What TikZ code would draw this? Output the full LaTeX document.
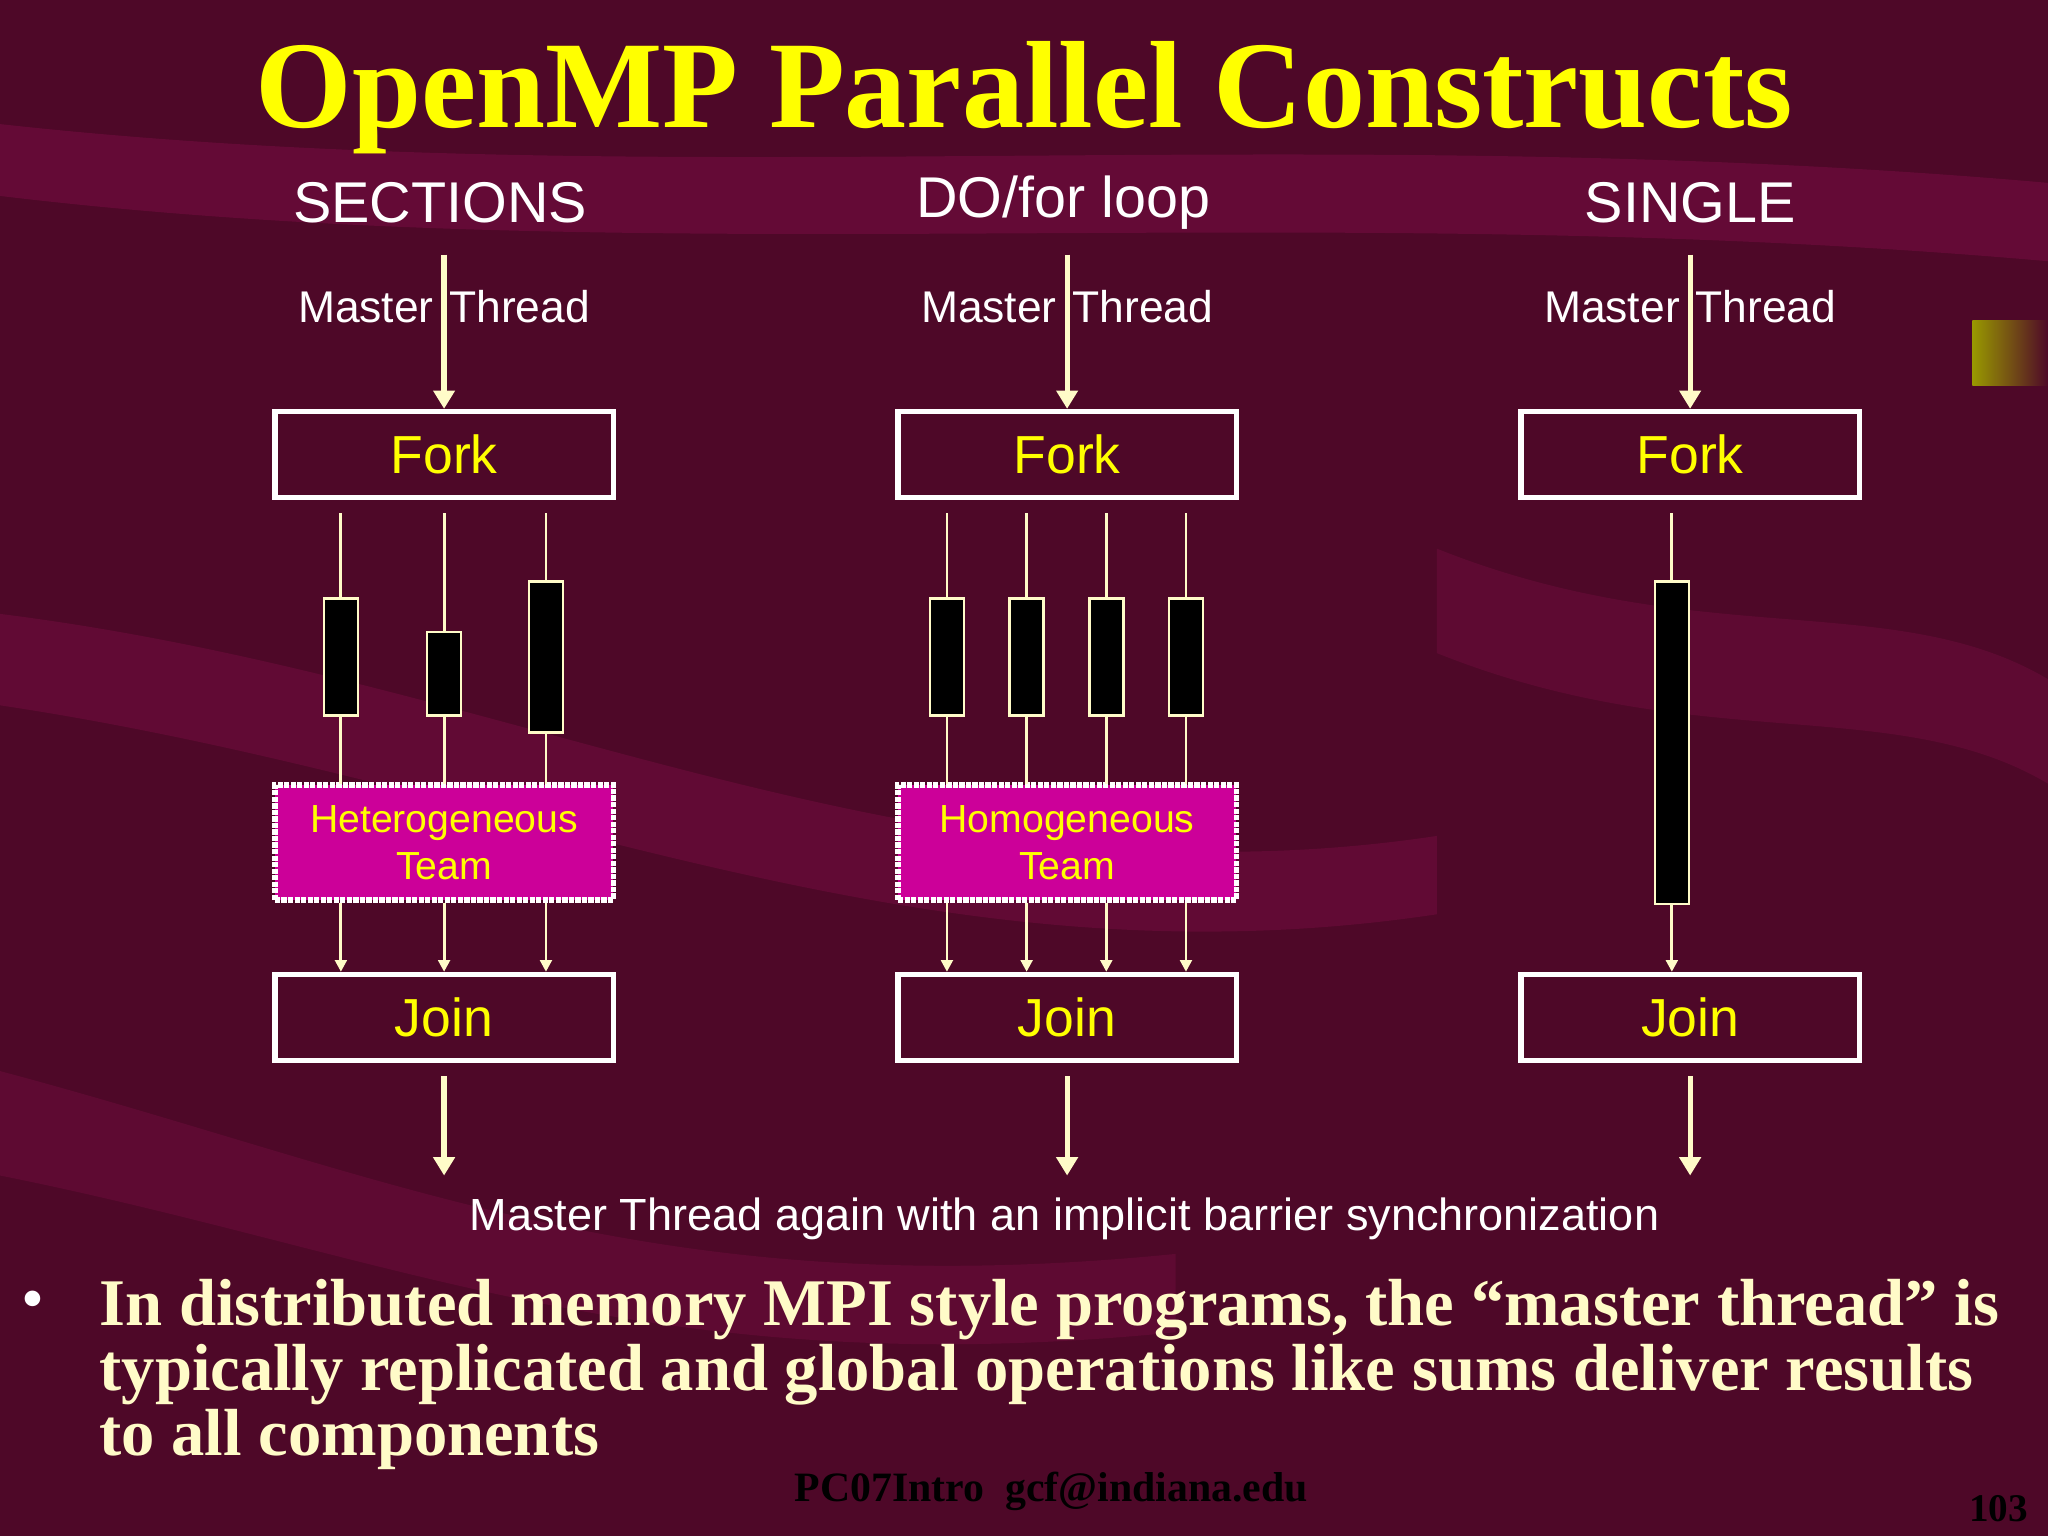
\documentclass[tikz,border=0pt]{standalone}
\usepackage{fontspec}
\usetikzlibrary{arrows.meta}
\setmainfont{Liberation Serif}
\setsansfont{Liberation Sans}
\begin{document}
\begin{tikzpicture}[x=1pt,y=-1pt,
  thin/.style={draw=creamc,line width=2.2pt},
  fbox/.style={draw=white,line width=4pt,minimum width=259pt,minimum height=66pt,inner sep=0pt,font=\sffamily\fontsize{41}{44}\selectfont,text=yel},
  team/.style={draw=white,densely dotted,line width=4pt,fill=mag,minimum width=259pt,minimum height=88pt,inner sep=0pt,align=center,font=\sffamily\fontsize{30}{36}\selectfont,text=yel},
  bar/.style={draw=creamc,fill=black,line width=2pt},
  hdr/.style={font=\sffamily\fontsize{44}{46}\selectfont,text=white},
  mt/.style={font=\sffamily\fontsize{34}{36}\selectfont,text=white},
  arr/.style={-{Triangle[length=14pt,width=16pt]},draw=creamc,line width=4pt},
  sarr/.style={-{Triangle[length=9pt,width=9pt]},draw=creamc,line width=2.2pt}]
\definecolor{creamc}{HTML}{FFFBC8}
\definecolor{yel}{HTML}{FFFF00}
\definecolor{mag}{HTML}{CC0099}
\definecolor{bg}{HTML}{4E0828}
\definecolor{bgl}{HTML}{6E0C3C}
\fill[bg] (0,0) rectangle (1568,1176);
\useasboundingbox (0,0) rectangle (1568,1176);
\fill[bgl,opacity=0.7] (0,95) .. controls (500,150) and (1000,90) .. (1568,140) -- (1568,200) .. controls (1000,150) and (500,210) .. (0,150) -- cycle;
\fill[bgl,opacity=0.6] (0,470) .. controls (400,520) and (700,700) .. (1100,640) -- (1100,700) .. controls (700,760) and (400,600) .. (0,540) -- cycle;
\fill[bgl,opacity=0.5] (0,820) .. controls (300,900) and (500,1000) .. (900,960) -- (900,1020) .. controls (500,1060) and (300,960) .. (0,900) -- cycle;
\fill[bgl,opacity=0.5] (1100,420) .. controls (1300,500) and (1450,450) .. (1568,520) -- (1568,600) .. controls (1450,530) and (1300,580) .. (1100,500) -- cycle;
\shade[left color=yel!60!black,right color=bg] (1510,245) rectangle (1568,295);
\node (title) at (784,75) {\fontsize{95}{100}\selectfont\bfseries\color{yel}OpenMP Parallel Constructs};
\foreach \c/\h/\i in {337/SECTIONS/a,814/DO\slash for loop/b,1294/SINGLE/c}{
  \node[hdr] (h\i) at (\c,155) {\h};
}
\foreach \c/\i in {340/a,817/b,1294/c}{
  \node[mt] (m\i) at (\c,235) {Master\hspace{12pt}Thread};
  \coordinate (ms\i) at (\c,195);
  \node[fbox] (f\i) at (\c,348) {Fork};
  \node[fbox] (j\i) at (\c,779) {Join};
  \coordinate (e\i) at (\c,900);
  \draw[arr] (ms\i) -- (f\i.north);
  \draw[arr] ([yshift=-10pt]j\i.south) -- (e\i);
}
\node[team] (ta) at (340,645) {Heterogeneous\\Team};
\node[team] (tb) at (817,645) {Homogeneous\\Team};
\foreach \x/\t/\b/\n in {261/458/548/1,340/484/548/2,418/445/561/3}{
  \coordinate (sa\n) at (\x,393);
  \draw[bar] (\x-13,\t) rectangle (\x+13,\b);
  \draw[thin] (sa\n) -- (\x,\t);
  \draw[thin] (\x,\b) -- (\x,600);
  \draw[sarr] (\x,691) -- (\x,744);
}
\foreach \x/\n in {725/1,786/2,847/3,908/4}{
  \coordinate (sb\n) at (\x,393);
  \draw[bar] (\x-13,458) rectangle (\x+13,548);
  \draw[thin] (sb\n) -- (\x,458);
  \draw[thin] (\x,548) -- (\x,600);
  \draw[sarr] (\x,691) -- (\x,744);
}
\coordinate (sc1) at (1280,393);
\draw[bar] (1267,445) rectangle (1293,692);
\draw[thin] (sc1) -- (1280,445);
\draw[sarr] (1280,692) -- (1280,744);
\node[mt,font=\sffamily\fontsize{34.5}{36}\selectfont] (note) at (815,933) {Master Thread again with an implicit barrier synchronization};
\node (bul) at (25,1000) {\fontsize{50}{50}\selectfont\color{white}\textbullet};
\node[anchor=north west,align=left,inner sep=0pt,text=creamc,font=\bfseries\fontsize{51}{50}\selectfont] (bt) at (76,979) {In distributed memory MPI style programs, the “master thread” is\\typically replicated and global operations like sums deliver results\\to all components};
\node[font=\bfseries\fontsize{32}{30}\selectfont,text=black] (foot) at (805,1142) {PC07Intro\hspace{16pt}gcf@indiana.edu};
\node[font=\bfseries\fontsize{30}{30}\selectfont,text=black] (pg) at (1530,1155) {103};
\end{tikzpicture}
\end{document}
